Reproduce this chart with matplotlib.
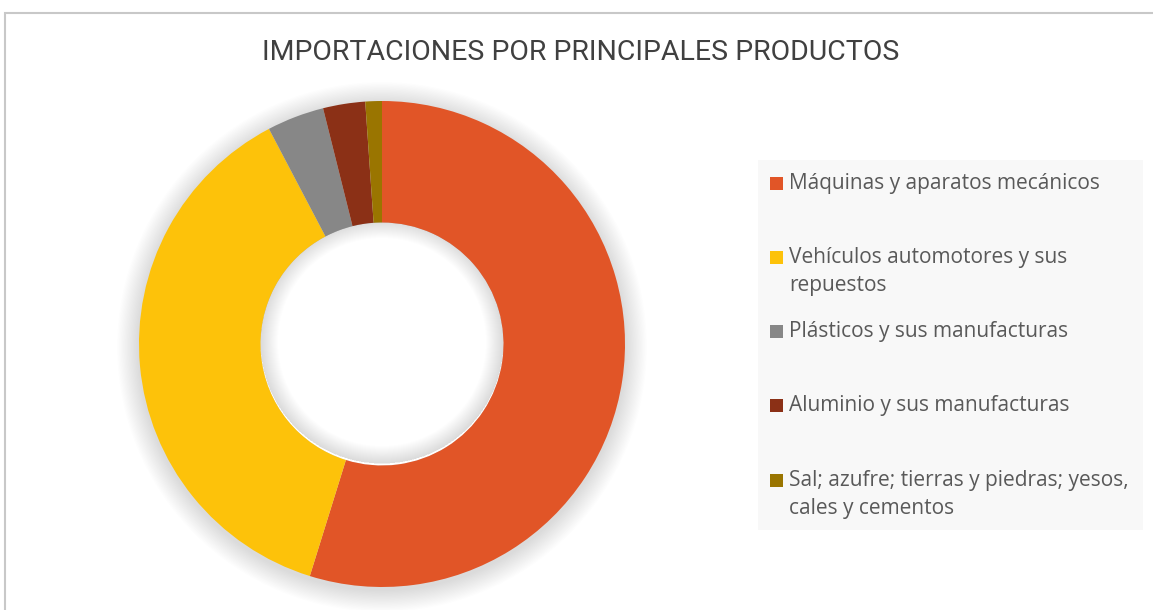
import matplotlib
matplotlib.use("Agg")
import matplotlib.pyplot as plt
from matplotlib.patches import Rectangle, Circle, Wedge

W, H = 1153, 610

labels = [
    "Máquinas y aparatos mecánicos",
    "Vehículos automotores y sus\nrepuestos",
    "Plásticos y sus manufacturas",
    "Aluminio y sus manufacturas",
    "Sal; azufre; tierras y piedras; yesos,\ncales y cementos",
]
shares = [54.8, 37.5, 3.8, 2.8, 1.1]
colors = ["#E15527", "#FDC20A", "#878787", "#8B3016", "#9A7500"]

fig = plt.figure(figsize=(W / 100, H / 100), dpi=100)

def px(x, y):
    return x / W, 1 - y / H

# chart frame
fig.patches.append(Rectangle(px(5, 700), 1200 / W, 687 / H, transform=fig.transFigure,
                             fill=False, edgecolor="#c8c8c8", linewidth=1.5))

fig.text(*px(581, 53), "IMPORTACIONES POR PRINCIPALES PRODUCTOS",
         ha="center", va="center", fontsize=20.5, color="#404040",
         family=["Roboto", "DejaVu Sans"])

# donut
cx, cy, r = 382, 344, 243
ax = fig.add_axes([(cx - r) / W, (H - cy - r) / H, 2 * r / W, 2 * r / H])
ax.set_xlim(-1, 1)
ax.set_ylim(-1, 1)
ax.set_aspect("equal")
ax.axis("off")

# soft shadow
n = 18
for i in range(n):
    rr = 1.0 + 0.005 * (n - i)
    ax.add_patch(Circle((0, -0.012), rr, color="black", alpha=0.008, lw=0, clip_on=False))
ax.add_patch(Circle((0, 0), 0.5, color="white", lw=0, zorder=1))
for i in range(n):
    rr = 0.5 - 0.004 * (n - i)
    ax.add_patch(Wedge((0, 0.008), 0.5, 0, 360, width=0.5 - rr, color="black",
                       alpha=0.007, lw=0, zorder=1))

ax.pie(shares, colors=colors, startangle=90, counterclock=False, radius=1,
       wedgeprops=dict(width=0.5, linewidth=0))
ax.set_xlim(-1, 1)
ax.set_ylim(-1, 1)

# legend
fig.patches.append(Rectangle(px(758, 530), (1143 - 758) / W, (530 - 160) / H,
                             transform=fig.transFigure, facecolor="#f8f8f8",
                             edgecolor="none"))
rows = [183, 257, 331, 405, 480]
for lab, col, y in zip(labels, colors, rows):
    fig.patches.append(Rectangle(px(770, y + 7), 13 / W, 13 / H,
                                 transform=fig.transFigure, facecolor=col,
                                 edgecolor="none"))
    fig.text(*px(789, y - 10), lab, ha="left", va="top", fontsize=15,
             color="#595959", linespacing=1.42, family=["Open Sans", "DejaVu Sans"])

fig.savefig("out.png", dpi=100, facecolor="white")
